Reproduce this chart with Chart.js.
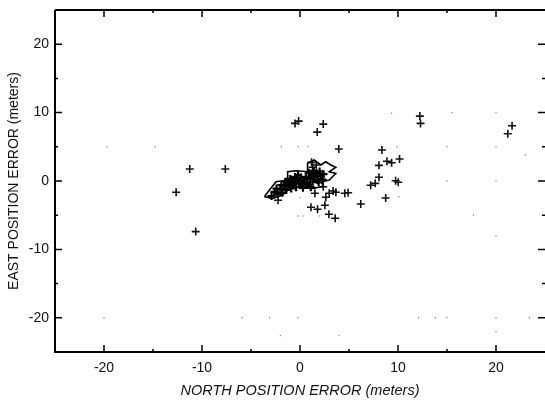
<!DOCTYPE html>
<html>
<head>
<meta charset="utf-8">
<style>
  html, body { margin: 0; padding: 0; background: #fff; }
  canvas { display: block; }
</style>
<script src="https://cdn.jsdelivr.net/npm/chart.js@4/dist/chart.umd.js"></script>
</head>
<body>
<canvas id="chart" width="545" height="400"></canvas>
<script>
// Scattered fixes (north, east in meters)
const outlierNorth = [-11.25, -7.62, -12.64, -10.64, -0.51, -0.14, 2.37, 1.76, 3.96, 12.23, 12.3, 21.64, 21.2,
  8.36, 8.06, 8.87, 9.35, 10.16, 8.06, 9.76, 10.02, 7.68, 7.21, 8.74, 6.2, 4.91, 4.57,
  1.52, 1.12, 1.79, 2.54, 2.95, 3.59, 2.64, 2.98, 3.38, 3.66, 2.37, -2.24, 1.18, 1.28, 1.66];
const outlierEast = [1.75, 1.75, -1.65, -7.4, 8.42, 8.76, 8.32, 7.15, 4.67, 9.49, 8.42, 8.07, 6.9,
  4.53, 2.29, 2.88, 2.67, 3.21, 0.54, 0.04, -0.19, -0.34, -0.63, -2.48, -3.36, -1.71, -1.8,
  -1.8, -3.84, -4.13, -3.55, -4.86, -5.45, -2.38, -1.8, -1.46, -1.65, -0.83, -2.82, 2.73, 2.0, 2.34];

// Crosses packed into the central band
const bandNorth = [-2.9, -2.6, -2.3, -2.4, -2.0, -1.8, -1.9, -1.6, -1.4, -1.3, -1.1, -0.9, -0.8, -0.6, -0.4, -0.3, -0.1, 0.2, 0.1,
  0.4, 0.7, 0.6, 1.0, 1.3, 1.2, 1.5, 1.8, 1.7, 2.1, 2.3, 1.1, 1.6, 0.3, 0.9, -0.5, 2.4, 0.8, 1.9, -1.5, -1.0, -0.2, 1.4, 2.0];
const bandEast = [-2.2, -1.6, -1.9, -1.1, -1.2, -1.7, -0.6, -0.8, -1.3, -0.2, -0.6, -1.1, 0.0, -0.4, -0.9, 0.3, -0.3, -0.6, 0.5,
  0.1, -0.3, 0.6, 0.3, -0.1, 0.9, 0.6, 0.2, 1.1, 0.7, 0.2, -0.9, 1.1, -1.0, 1.2, 0.6, 1.0, -0.6, -0.2, -0.1, 0.3, 0.9, 1.5, 1.4];

// Thin track winding around the band
const trackNorth = [-3.63, -3.12, -2.44, -1.26, -1.26, -0.41, 0.77, 0.77, 1.45, 2.13, 2.63, 3.14, 3.65, 2.98, 3.65, 2.98, 2.3, 2.3, 1.28, 0.1, -1.09, -1.77, -2.78, -3.63];
const trackEast = [-2.29, -1.31, -0.1, 0.14, 1.36, 1.5, 1.36, 2.58, 3.07, 2.34, 2.82, 2.34, 2.0, 1.36, 1.1, 0.14, -0.1, -0.83, -1.07, -0.83, -1.07, -2.04, -2.53, -2.29];

// Leftover dots of the scanned dotted grid
const speckNorth = [-20, -19.7, -14.8, -1.9, -0.2, 0.8, 15, 15, 20, 20, 15.5, 20, 17.7, 20, 9.35, 9.9, 10.1, 23, 4, 20, 20, 23.4, -2, -5.9, -3.1, -0.2, 12.1, 13.8, 15, 0, -0.2, 0.3, 2];
const speckEast = [-20, 5, 5, 5, 5, 5, 5, 0, 5, 0, 10, 10, -5, -8, 9.9, 5, -2.3, 3.8, -22.6, -20, -22, -20, -22.6, -20, -20, -20, -20, -20, -20, -2.4, -5.1, -5.1, -5.1];

const AXIS_MIN = -25;
const AXIS_MAX = 25;
const TICK_STEP = 5;

function toPoints(xs, ys) {
    return xs.map((x, i) => ({ x: x, y: ys[i] }));
}

// Only every second tick carries a number
function majorLabel(value) {
    return value % 10 === 0 && Math.abs(value) < AXIS_MAX ? String(value) : '';
}

// Frame and inward pointing ticks, the library only draws them outward
const inwardTicks = {
    id: 'inwardTicks',
    afterDraw(chart) {
        const { ctx, chartArea: area, scales } = chart;
        ctx.save();
        ctx.strokeStyle = '#000';
        ctx.lineWidth = 2;
        ctx.beginPath();
        ctx.moveTo(area.left, area.top);
        ctx.lineTo(area.left, area.bottom);
        ctx.lineTo(area.right, area.bottom);
        ctx.moveTo(area.left, area.top);
        ctx.lineTo(area.right, area.top);
        ctx.stroke();
        ctx.lineWidth = 1.5;
        ctx.beginPath();
        scales.x.ticks.forEach(t => {
            if (Math.abs(t.value) >= AXIS_MAX) return;
            const px = scales.x.getPixelForValue(t.value);
            const len = t.value % 10 === 0 ? 7 : 3;
            ctx.moveTo(px, area.bottom);
            ctx.lineTo(px, area.bottom - len);
            ctx.moveTo(px, area.top);
            ctx.lineTo(px, area.top + len);
        });
        scales.y.ticks.forEach(t => {
            if (Math.abs(t.value) >= AXIS_MAX) return;
            const py = scales.y.getPixelForValue(t.value);
            const len = t.value % 10 === 0 ? 7 : 3;
            ctx.moveTo(area.left, py);
            ctx.lineTo(area.left + len, py);
            ctx.moveTo(area.right, py);
            ctx.lineTo(area.right - len, py);
        });
        ctx.stroke();
        ctx.restore();
    }
};

new Chart(document.getElementById('chart').getContext('2d'), {
    type: 'scatter',
    data: {
        datasets: [
            {
                label: 'Specks',
                data: toPoints(speckNorth, speckEast),
                pointStyle: 'circle',
                pointRadius: 0.7,
                pointBorderWidth: 0,
                pointBackgroundColor: '#777'
            },
            {
                label: 'Track',
                data: toPoints(trackNorth, trackEast),
                showLine: true,
                borderColor: '#000',
                borderWidth: 1.6,
                pointRadius: 0
            },
            {
                label: 'Band',
                data: toPoints(bandNorth, bandEast),
                pointStyle: 'cross',
                pointRadius: 4,
                pointBorderWidth: 2.2,
                pointBorderColor: '#000'
            },
            {
                label: 'Outliers',
                data: toPoints(outlierNorth, outlierEast),
                pointStyle: 'cross',
                pointRadius: 4,
                pointBorderWidth: 1.6,
                pointBorderColor: '#111'
            }
        ]
    },
    options: {
        responsive: false,
        animation: false,
        layout: { autoPadding: false, padding: { top: 10, right: 0, left: 0, bottom: 0 } },
        plugins: {
            legend: { display: false },
            tooltip: { enabled: false }
        },
        scales: {
            x: {
                type: 'linear',
                min: AXIS_MIN,
                max: AXIS_MAX,
                afterFit: scale => {
                    scale.height = 48;
                    scale.paddingRight = 0;
                },
                grid: { display: false, drawTicks: false },
                border: { display: false },
                ticks: {
                    stepSize: TICK_STEP,
                    autoSkip: false,
                    maxRotation: 0,
                    padding: 8,
                    color: '#111',
                    font: { family: '"Liberation Sans"', size: 14 },
                    callback: majorLabel
                },
                title: {
                    display: true,
                    text: 'NORTH POSITION ERROR (meters)',
                    color: '#111',
                    padding: { top: 2, bottom: 0 },
                    font: { family: '"Liberation Sans"', size: 14.5, style: 'italic' }
                }
            },
            y: {
                type: 'linear',
                min: AXIS_MIN,
                max: AXIS_MAX,
                afterFit: scale => {
                    scale.width = 55;
                    scale.paddingTop = 0;
                    scale.paddingBottom = 0;
                },
                grid: { display: false, drawTicks: false },
                border: { display: false },
                ticks: {
                    stepSize: TICK_STEP,
                    autoSkip: false,
                    padding: 6,
                    color: '#111',
                    font: { family: '"Liberation Sans"', size: 14 },
                    callback: majorLabel
                },
                title: {
                    display: true,
                    text: 'EAST POSITION ERROR (meters)',
                    color: '#111',
                    padding: { top: 6, bottom: 0 },
                    font: { family: '"Liberation Sans"', size: 14 }
                }
            }
        }
    },
    plugins: [inwardTicks]
});
</script>
</body>
</html>
